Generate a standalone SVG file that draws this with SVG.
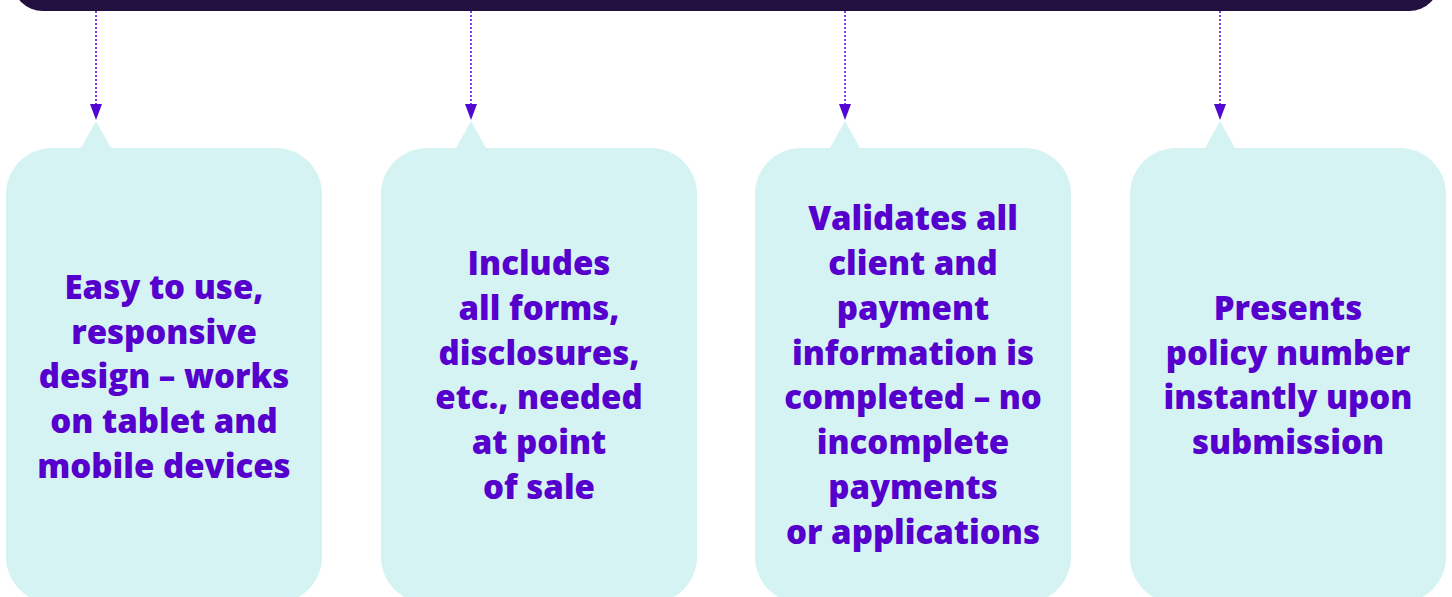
<svg xmlns="http://www.w3.org/2000/svg" width="1452" height="597" viewBox="0 0 1452 597">
  <defs>
    <style>
      .box { fill: #d5f3f3; }
      .lbl { font-family: "Open Sans", "Noto Sans", sans-serif; font-weight: 800; font-size: 33px; fill: #5500cc; text-anchor: middle; }
      .conn { stroke: #7f3fe6; stroke-width: 2; stroke-dasharray: 2 2; fill: none; }
      .head { fill: #5208d0; }
    </style>
  </defs>
  <rect width="1452" height="597" fill="#ffffff"/>
  <g id="top-bar">
    <path d="M12 -40 H1440 V-20 A31 31 0 0 1 1409 11 H43 A31 31 0 0 1 12 -20 Z" fill="#221040"/>
  </g>
  <g id="connectors">
    <line class="conn" x1="96" y1="11" x2="96" y2="105"/>
    <line class="conn" x1="471" y1="11" x2="471" y2="105"/>
    <line class="conn" x1="845" y1="11" x2="845" y2="105"/>
    <line class="conn" x1="1220" y1="11" x2="1220" y2="105"/>
    <path class="head" d="M90 104 H102 L96 120 Z"/>
    <path class="head" d="M465 104 H477 L471 120 Z"/>
    <path class="head" d="M839 104 H851 L845 120 Z"/>
    <path class="head" d="M1214 104 H1226 L1220 120 Z"/>
  </g>
  <g id="node1">
    <path class="box" d="M81 148 L96 121 L111 148 Z"/>
    <rect class="box" x="6" y="148" width="316" height="455" rx="46"/>
    <text class="lbl" x="164" y="299">Easy to use,</text>
    <text class="lbl" x="164" y="344">responsive</text>
    <text class="lbl" x="164" y="388">design – works</text>
    <text class="lbl" x="164" y="433">on tablet and</text>
    <text class="lbl" x="164" y="478">mobile devices</text>
  </g>
  <g id="node2">
    <path class="box" d="M456 148 L471 121 L486 148 Z"/>
    <rect class="box" x="381" y="148" width="316" height="455" rx="46"/>
    <text class="lbl" x="539" y="275">Includes</text>
    <text class="lbl" x="539" y="320">all forms,</text>
    <text class="lbl" x="539" y="365">disclosures,</text>
    <text class="lbl" x="539" y="409">etc., needed</text>
    <text class="lbl" x="539" y="454">at point</text>
    <text class="lbl" x="539" y="499">of sale</text>
  </g>
  <g id="node3">
    <path class="box" d="M830 148 L845 121 L860 148 Z"/>
    <rect class="box" x="755" y="148" width="316" height="455" rx="46"/>
    <text class="lbl" x="913" y="230">Validates all</text>
    <text class="lbl" x="913" y="275">client and</text>
    <text class="lbl" x="913" y="320">payment</text>
    <text class="lbl" x="913" y="365">information is</text>
    <text class="lbl" x="913" y="409">completed – no</text>
    <text class="lbl" x="913" y="454">incomplete</text>
    <text class="lbl" x="913" y="499">payments</text>
    <text class="lbl" x="913" y="544">or applications</text>
  </g>
  <g id="node4">
    <path class="box" d="M1205 148 L1220 121 L1235 148 Z"/>
    <rect class="box" x="1130" y="148" width="316" height="455" rx="46"/>
    <text class="lbl" x="1288" y="320">Presents</text>
    <text class="lbl" x="1288" y="365">policy number</text>
    <text class="lbl" x="1288" y="409">instantly upon</text>
    <text class="lbl" x="1288" y="454">submission</text>
  </g>
</svg>
